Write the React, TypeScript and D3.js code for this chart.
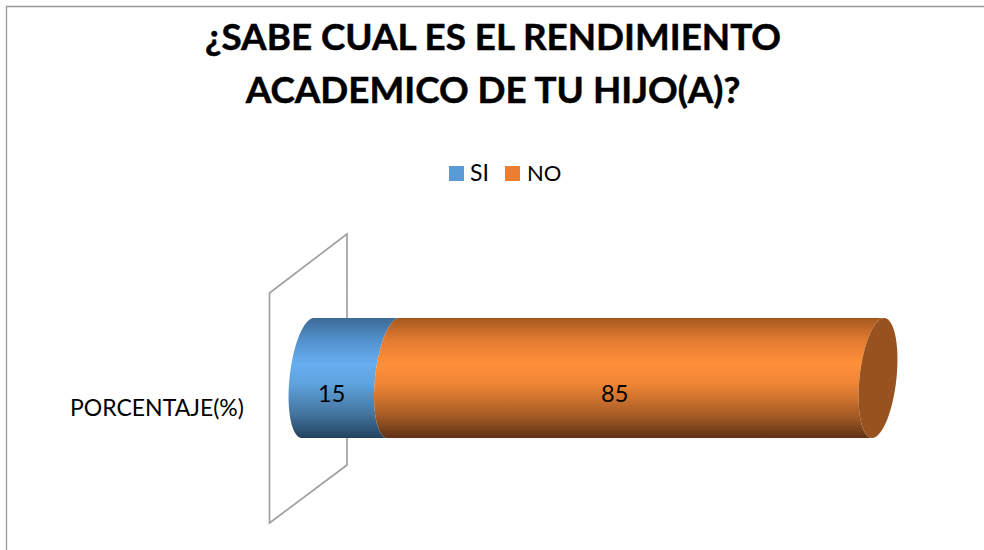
import React from "react";
import * as d3 from "d3";

const titleLines = ["¿SABE CUAL ES EL RENDIMIENTO", "ACADEMICO DE TU HIJO(A)?"];
const categoryLabel = "PORCENTAJE(%)";
const seriesNames = ["SI", "NO"];
const seriesValues = [15, 85];
const legendColors = ["#5b9bd5", "#ed7d31"];

const FONT = "Lato, Carlito, 'Open Sans', sans-serif";

const x = d3.scaleLinear().domain([0, 100]).range([308, 878]);
const yTop = 318;
const yBottom = 438;
const cy = (yTop + yBottom) / 2;
const ry = (yBottom - yTop) / 2;
const rx = 18.5;
const skew = 6;

// a skewed ellipse arc around a cylinder cross-section at centre cx
const arcPoints = (cx: number, a0: number, a1: number): [number, number][] =>
  d3.range(0, 61).map((i) => {
    const t = a0 + ((a1 - a0) * i) / 60;
    const s = Math.sin(t);
    return [cx + rx * Math.cos(t) + skew * -s, cy + ry * s] as [number, number];
  });

const line = d3.line();

// body between two stacked values: left side bulges left, right side is the next ellipse's left arc
const bodyPath = (v0: number, v1: number) => {
  const left = arcPoints(x(v0), -Math.PI / 2, -Math.PI * 1.5);
  const right = arcPoints(x(v1), Math.PI / 2, Math.PI * 1.5);
  return line([...left, ...right]) + "Z";
};
const capPath = (v: number) =>
  line(arcPoints(x(v), 0, Math.PI * 2)) + "Z";

const stacks = seriesValues.map((v, i) => ({
  name: seriesNames[i],
  v0: d3.sum(seriesValues.slice(0, i)),
  v1: d3.sum(seriesValues.slice(0, i + 1)),
  value: v,
}));

const gradients = [
  { id: "g0", stops: [["0", "#3d6a96"], ["0.18", "#5290cb"], ["0.38", "#66aeef"], ["0.55", "#5fa2dd"], ["0.8", "#44749f"], ["1", "#23425f"]] },
  { id: "g1", stops: [["0", "#a3581f"], ["0.18", "#e27a30"], ["0.38", "#ff8f3a"], ["0.55", "#ef8535"], ["0.8", "#a95d26"], ["1", "#5f3216"]] },
];

export default function App() {
  return (
    <svg
      width={984}
      height={550}
      style={{ position: "absolute", left: 0, top: 0, background: "#fff" }}
      fontFamily={FONT}
    >
      <defs>
        {gradients.map((g) => (
          <linearGradient key={g.id} id={g.id} x1="0" y1="0" x2="0" y2="1">
            {g.stops.map(([o, c]) => (
              <stop key={o} offset={o} stopColor={c} />
            ))}
          </linearGradient>
        ))}
      </defs>
      <path d="M6.5,550V6.5H984" fill="none" stroke="#999" strokeWidth={1.3} />
      {titleLines.map((t, i) => (
        <text key={t} x={493} y={50 + i * 53} textAnchor="middle" fontSize={36.8} fontWeight={700} fill="#000" stroke="#000" strokeWidth={0.5}>
          {t}
        </text>
      ))}
      <rect x={449} y={166} width={15} height={15} fill={legendColors[0]} />
      <text x={470} y={181} fontSize={23} fill="#000">{seriesNames[0]}</text>
      <rect x={505} y={166} width={15} height={15} fill={legendColors[1]} />
      <text x={527} y={181} fontSize={22} fill="#000">{seriesNames[1]}</text>

      <path d="M269.5,293L347,234V465L269.5,523Z" fill="none" stroke="#a0a0a0" strokeWidth={1.7} />

      {stacks.map((s, i) => (
        <path key={s.name} d={bodyPath(s.v0, s.v1)} fill={`url(#g${i})`} />
      ))}
      <path d={capPath(100)} fill="#98521f" />

      <text x={70} y={416} fontSize={23} fill="#000">{categoryLabel}</text>
      {stacks.map((s) => (
        <text key={s.name} x={x((s.v0 + s.v1) / 2) - (s.v0 === 0 ? 19 : 21)} y={402} textAnchor="middle" fontSize={23.5} fill="#000">
          {s.value}
        </text>
      ))}
    </svg>
  );
}
